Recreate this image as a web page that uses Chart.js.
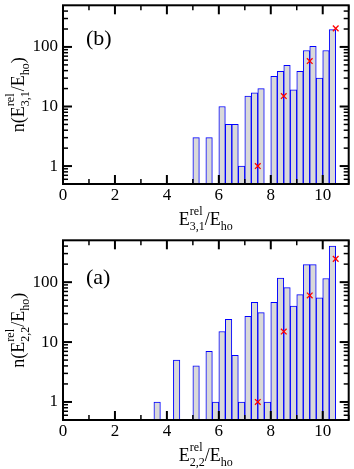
<!DOCTYPE html>
<html lang="en">
<head>
<meta charset="UTF-8">
<title>Relative energy histograms</title>
<style>
  body { margin: 0; background: #fff; }
  #wrap { position: relative; width: 354px; height: 469px; }
  canvas { position: absolute; left: 0; }
  #chartB { top: 0; }
  #chartA { top: 235px; }
</style>
</head>
<body>
<div id="wrap">
  <canvas id="chartB" width="354" height="235"></canvas>
  <canvas id="chartA" width="354" height="234"></canvas>
</div>
<script src="https://cdn.jsdelivr.net/npm/chart.js"></script>
<script>
// bins are 0.25 wide, values are bin centres
const xTicks = [0, 2, 4, 6, 8, 10];
const yTicks = [1, 10, 100];

const binsB = [5.125, 5.625, 6.125, 6.375, 6.625, 6.875, 7.125, 7.375, 7.625, 8.125, 8.375, 8.625, 8.875, 9.125, 9.375, 9.625, 9.875, 10.125, 10.375];
const countsB = [3, 3, 10, 5, 5, 1, 15, 17, 20, 32, 39, 49, 19, 39, 87, 102, 30, 87, 195];

const binsA = [3.625, 4.375, 5.125, 5.625, 5.875, 6.125, 6.375, 6.625, 6.875, 7.125, 7.375, 7.625, 7.875, 8.125, 8.375, 8.625, 8.875, 9.125, 9.375, 9.625, 9.875, 10.125, 10.375];
const countsA = [1, 5, 4, 7, 1, 15, 24, 6, 1, 27, 46, 31, 1, 46, 117, 81, 40, 62, 196, 196, 55, 115, 400];

// red crosses
const markX = [7.5, 8.5, 9.5, 10.5];
const markB = [1, 15, 58, 205];
const markA = [1, 15, 60, 245];

const SERIF = '"Liberation Serif", "Times New Roman", serif';

// text with super/subscripts, parts = [{t}, {sup, sub}]
function richWidth(ctx, parts) {
  let w = 0;
  parts.forEach(p => {
    if (p.t) { ctx.font = '18px ' + SERIF; w += ctx.measureText(p.t).width; }
    else {
      ctx.font = '12px ' + SERIF;
      w += Math.max(p.sup ? ctx.measureText(p.sup).width : 0, p.sub ? ctx.measureText(p.sub).width : 0);
    }
  });
  return w;
}

function drawRich(ctx, parts, cx, base) {
  let x = cx - richWidth(ctx, parts) / 2;
  ctx.textAlign = 'left';
  ctx.textBaseline = 'alphabetic';
  parts.forEach(p => {
    if (p.t) {
      ctx.font = '18px ' + SERIF;
      ctx.fillText(p.t, x, base);
      x += ctx.measureText(p.t).width;
    } else {
      ctx.font = '12px ' + SERIF;
      let w = 0;
      if (p.sup) { ctx.fillText(p.sup, x, base - 10); w = ctx.measureText(p.sup).width; }
      if (p.sub) { ctx.fillText(p.sub, x, base + 5); w = Math.max(w, ctx.measureText(p.sub).width); }
      x += w;
    }
  });
}

const frameTicks = {
  id: 'frameTicks',
  afterDatasetsDraw(chart) {
    const { ctx, chartArea: a } = chart;
    const x = chart.scales.x, y = chart.scales.y;
    const line = (x0, y0, x1, y1, w) => {
      ctx.lineWidth = w;
      ctx.beginPath(); ctx.moveTo(x0, y0); ctx.lineTo(x1, y1); ctx.stroke();
    };
    ctx.save();
    ctx.strokeStyle = '#000';
    for (let v = 0; v <= 11; v++) {
      const px = x.getPixelForValue(v);
      const major = v % 2 === 0;
      const len = major ? 9 : 5;
      line(px, a.bottom, px, a.bottom - len, major ? 2 : 1.5);
      line(px, a.top, px, a.top + len, major ? 2 : 1.5);
    }
    for (let d = -1; d <= 2; d++) {
      for (let k = 1; k <= 9; k++) {
        const v = k * Math.pow(10, d);
        if (v <= 0.5 || v >= 500) continue;
        const py = y.getPixelForValue(v);
        const len = k === 1 ? 9 : 5;
        line(a.left, py, a.left + len, py, k === 1 ? 2 : 1.5);
        line(a.right, py, a.right - len, py, k === 1 ? 2 : 1.5);
      }
    }
    ctx.lineWidth = 2;
    ctx.strokeRect(a.left, a.top, a.right - a.left, a.bottom - a.top);
    ctx.restore();
  }
};

const panelText = {
  id: 'panelText',
  afterDraw(chart, args, opts) {
    const { ctx, chartArea: a } = chart;
    ctx.save();
    ctx.fillStyle = '#000';
    ctx.font = '22px ' + SERIF;
    ctx.textAlign = 'left';
    ctx.textBaseline = 'alphabetic';
    ctx.fillText(opts.tag, a.left + 23, a.top + opts.tagDy);

    drawRich(ctx, [{ t: 'E' }, { sup: 'rel', sub: opts.sub }, { t: '/E' }, { sub: 'ho' }],
      (a.left + a.right) / 2, a.bottom + 41);

    ctx.translate(24, (a.top + a.bottom) / 2);
    ctx.rotate(-Math.PI / 2);
    drawRich(ctx, [{ t: 'n(E' }, { sup: 'rel', sub: opts.sub }, { t: '/E' }, { sub: 'ho' }, { t: ')' }], 0, 0);
    ctx.restore();
  }
};

function makePanel(id, bins, counts, marks, tag, sub, padTop, axisH, tagDy) {
  const tickFont = { family: SERIF, size: 17 };
  return new Chart(document.getElementById(id), {
    type: 'bar',
    data: {
      datasets: [
        {
          type: 'scatter',
          data: markX.map((v, i) => ({ x: v, y: marks[i] })),
          pointStyle: 'crossRot',
          pointRadius: 4,
          borderColor: '#ff0000',
          borderWidth: 1.3,
          order: 0
        },
        {
          data: bins.map((v, i) => ({ x: v, y: counts[i] })),
          backgroundColor: '#d9d9d9',
          borderColor: '#0000ff',
          borderWidth: 1,
          barPercentage: 1,
          categoryPercentage: 1,
          order: 1
        }
      ]
    },
    options: {
      responsive: false,
      animation: false,
      layout: { padding: { top: padTop, right: 3, left: 0, bottom: 0 } },
      plugins: {
        legend: { display: false },
        tooltip: { enabled: false },
        panelText: { tag: tag, sub: sub, tagDy: tagDy }
      },
      scales: {
        x: {
          type: 'linear',
          min: 0,
          max: 11,
          offset: false,
          grid: { display: false, drawTicks: false },
          border: { display: false },
          afterBuildTicks: s => { s.ticks = xTicks.map(v => ({ value: v })); },
          afterFit: s => { s.height = axisH; s.paddingLeft = 0; s.paddingRight = 0; },
          ticks: { font: tickFont, color: '#000', padding: 1, maxRotation: 0, callback: v => String(v) }
        },
        y: {
          type: 'logarithmic',
          min: 0.5,
          max: 500,
          grid: { display: false, drawTicks: false },
          border: { display: false },
          afterBuildTicks: s => { s.ticks = yTicks.map(v => ({ value: v })); },
          afterFit: s => { s.width = 63; s.paddingTop = 0; s.paddingBottom = 0; },
          ticks: { font: tickFont, color: '#000', padding: 5, callback: v => String(v) }
        }
      }
    },
    plugins: [frameTicks, panelText]
  });
}

makePanel('chartB', binsB, countsB, markB, '(b)', '3,1', 4, 51, 40);
makePanel('chartA', binsA, countsA, markA, '(a)', '2,2', 5, 49, 44);
</script>
</body>
</html>
